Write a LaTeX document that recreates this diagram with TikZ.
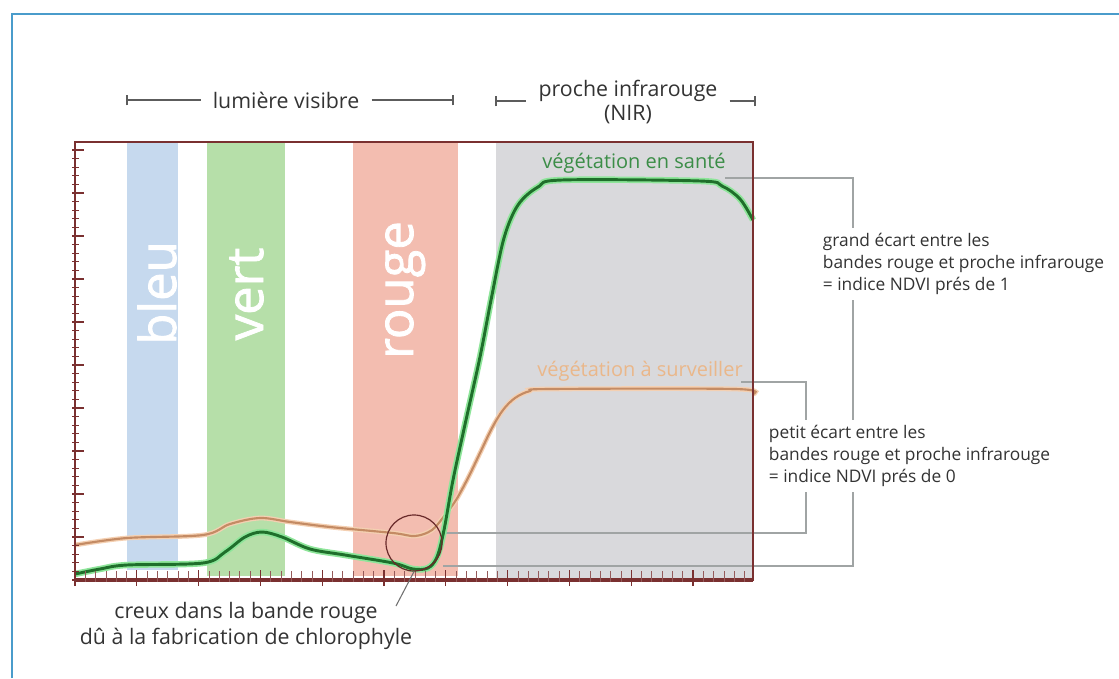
\documentclass[tikz,border=0pt]{standalone}
\usepackage{fontspec}
\setmainfont{Open Sans}
\newfontfamily\bandefont[FakeBold=1.6]{Open Sans}
\usetikzlibrary{positioning}

\definecolor{cadre}{HTML}{7A3030}
\definecolor{bleuband}{HTML}{C6D9EE}
\definecolor{vertband}{HTML}{B6DFA9}
\definecolor{rougeband}{HTML}{F3BDB0}
\definecolor{nirband}{HTML}{D9D9DC}
\definecolor{sante}{HTML}{1F6F2B}
\definecolor{santehalo}{HTML}{8EE59A}
\definecolor{surveil}{HTML}{C48B64}
\definecolor{surveilhalo}{HTML}{F4D0B2}
\definecolor{texte}{HTML}{333333}
\definecolor{repere}{HTML}{A0A4A4}
\definecolor{bord}{HTML}{4A9CCB}

\tikzset{
  titre/.style={font=\fontsize{16}{20}\selectfont, text=texte, inner sep=1pt},
  note/.style={font=\fontsize{13}{16.5}\selectfont, text=texte, align=left, fill=white, inner xsep=2pt, inner ysep=4pt},
  bande/.style={font=\bandefont\fontsize{38}{38}\selectfont, text=white, rotate=90, anchor=base, inner sep=0pt},
  ecart/.style={draw=repere, line width=0.8pt},
  intervalle/.style={draw=texte!80, line width=0.9pt},
}

\begin{document}
\begin{tikzpicture}[x=0.75pt, y=-0.75pt]
    \useasboundingbox (0,0) rectangle (1119,678);
    \draw[bord, line width=1.5pt] (12,678) -- (12,14) -- (1119,14);

    \fill[bleuband] (127,143) rectangle (178,570);
    \fill[vertband] (207,143) rectangle (285,576);
    \fill[rougeband] (353,143) rectangle (458,576);
    \fill[nirband] (496,143) rectangle (753,579);

    \node[bande] (bleu) at (176,293) {bleu};
    \node[bande] (vert) at (263,294) {vert};
    \node[bande] (rouge) at (413,290) {rouge};

    \coordinate (hautS) at (725,178);
    \coordinate (coinS) at (853,178);
    \coordinate (basS) at (853,566);
    \coordinate (finS) at (443,566);
    \draw[ecart] (hautS) -- (coinS) -- (basS) -- (finS);
    \coordinate (hautV) at (741,382);
    \coordinate (coinV) at (806,382);
    \coordinate (basV) at (806,533);
    \coordinate (finV) at (440,533);
    \draw[ecart] (hautV) -- (coinV) -- (basV) -- (finV);

    \draw[surveil, line width=1.6pt, preaction={draw=surveilhalo, line width=3.6pt}] plot[smooth, tension=0.55] coordinates {
        (75,545) (127,538) (203,535) (230,524) (260,518) (290,522) (330,527) (393,533) (415,536)
        (432,530) (445,515) (456,500) (468,478) (480,453) (492,428) (503,410) (515,398) (530,391)
        (550,389) (735,389) (753,394)};
    \draw[sante, line width=2.2pt, preaction={draw=santehalo, line width=4.8pt}] plot[smooth, tension=0.55] coordinates {
        (75,574) (100,569) (127,565) (203,563) (225,552) (245,537) (262,532) (282,537) (310,549)
        (345,555) (393,563) (413,569) (428,568) (437,557) (444,530) (453,480) (466,420) (480,357)
        (492,295) (504,238) (518,205) (538,187) (562,180) (700,181) (722,186) (740,199) (753,220)};

    \draw[cadre, line width=1.2pt] (75,142) rectangle (753,580);
    \draw[cadre, line width=2.5pt] (75,580) -- (753,580);
    \foreach \i in {0,...,50} \draw[cadre, line width=0.6pt] (72,580-8.6*\i) -- ++(7,0);
    \foreach \i in {0,5,...,50} \draw[cadre, line width=0.8pt] (72,580-8.6*\i) -- ++(12,0);
    \foreach \i in {0,...,65} \draw[cadre!80, line width=0.6pt] (75+10.3*\i,582) -- ++(0,-11);
    \foreach \i in {0,6,...,60} \draw[cadre, line width=0.8pt] (75+10.3*\i,586) -- ++(0,-16);

    \node[draw=cadre!85!black, line width=0.9pt, circle, minimum size=42pt, inner sep=0pt] (creux) at (414,543) {};
    \coordinate (pointe) at (396,606);
    \draw[texte!70, line width=0.8pt] (creux.south) -- (pointe);
    \node[titre, align=center] (legende) at (246,626) {creux dans la bande rouge\\dû à la fabrication de chlorophyle};

    \node[titre, inner xsep=9pt] (visible) at (286,100) {lumière visibre};
    \coordinate (visG) at (127,100);
    \coordinate (visD) at (453,100);
    \draw[intervalle] (visG) -- (visible.west);
    \draw[intervalle] (visible.east) -- (visD);
    \draw[intervalle] ([yshift=-4pt]visG) -- ([yshift=4pt]visG);
    \draw[intervalle] ([yshift=-4pt]visD) -- ([yshift=4pt]visD);

    \node[titre, inner xsep=9pt] (proche) at (628,91) {proche infrarouge};
    \node[titre, below=0pt of proche] (nir) {(NIR)};
    \coordinate (nirG) at (496,101);
    \coordinate (nirD) at (755,101);
    \draw[intervalle] (nirG) -- (proche.west |- nirG);
    \draw[intervalle] (proche.east |- nirD) -- (nirD);
    \draw[intervalle] ([yshift=-4pt]nirG) -- ([yshift=4pt]nirG);
    \draw[intervalle] ([yshift=-4pt]nirD) -- ([yshift=4pt]nirD);

    \node[font=\fontsize{15}{18}\selectfont, text=sante!75!santehalo] (santeLbl) at (634,163) {végétation en santé};
    \node[font=\fontsize{15}{18}\selectfont, text=surveil!60!orange!60!white] (surveilLbl) at (640,371) {végétation à surveiller};

    \node[note, anchor=west] (grand) at (820,264) {grand écart entre les\\bandes rouge et proche infrarouge\\= indice NDVI prés de 1};
    \node[note, anchor=west] (petit) at (766,456) {petit écart entre les\\bandes rouge et proche infrarouge\\= indice NDVI prés de 0};
\end{tikzpicture}
\end{document}
